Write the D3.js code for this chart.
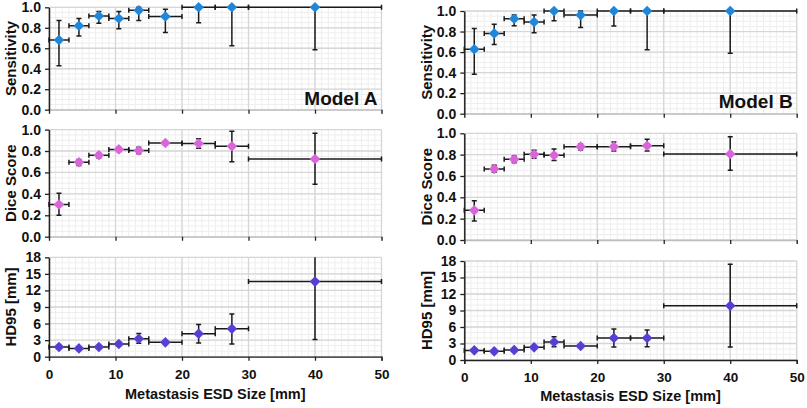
<!DOCTYPE html>
<html><head><meta charset="utf-8">
<script src="https://cdn.jsdelivr.net/npm/d3@7"></script>
<style>
body{margin:0;background:#fff;}
text{font-family:"Liberation Sans",Arial,sans-serif;font-weight:bold;fill:#111;}
</style></head>
<body><svg id="c" width="807" height="408"></svg>
<script>
// ---- data ----
const binLo = [0, 3, 6, 9, 12, 15, 20, 25, 30];
const binHi = [3, 6, 9, 12, 15, 20, 25, 30, 50];
const binMid = [1.5, 4.5, 7.5, 10.5, 13.5, 17.5, 22.5, 27.5, 40];

const sensA    = [0.68, 0.82, 0.915, 0.89, 0.97, 0.91, 1.0, 1.0, 1.0];
const sensALo  = [0.43, 0.72, 0.845, 0.79, 0.87, 0.755, 0.85, 0.625, 0.585];
const sensAHi  = [0.87, 0.89, 0.96, 0.96, 1.0, 0.98, 1.0, 1.0, 1.0];
const diceA    = [0.30, 0.695, 0.76, 0.815, 0.805, 0.875, 0.87, 0.845, 0.725];
const diceALo  = [0.20, 0.665, 0.735, 0.795, 0.775, 0.86, 0.825, 0.70, 0.49];
const diceAHi  = [0.405, 0.72, 0.78, 0.835, 0.835, 0.89, 0.915, 0.985, 0.965];
const hdA      = [1.75, 1.5, 1.75, 2.3, 3.25, 2.6, 4.15, 5.05, 13.6];
const hdALo    = [1.45, 1.3, 1.5, 2.0, 2.45, 2.4, 2.5, 2.3, 3.1];
const hdAHi    = [2.05, 1.75, 2.0, 2.65, 4.2, 2.8, 5.85, 7.75, 19.5];

const sensB    = [0.627, 0.782, 0.925, 0.893, 1.0, 0.96, 1.0, 1.0, 1.0];
const sensBLo  = [0.383, 0.675, 0.857, 0.789, 0.906, 0.84, 0.854, 0.623, 0.588];
const sensBHi  = [0.83, 0.87, 0.96, 0.96, 1.0, 1.0, 1.0, 1.0, 1.0];
const diceB    = [0.278, 0.666, 0.756, 0.803, 0.794, 0.875, 0.875, 0.884, 0.806];
const diceBLo  = [0.178, 0.634, 0.725, 0.766, 0.744, 0.844, 0.834, 0.834, 0.653];
const diceBHi  = [0.369, 0.70, 0.787, 0.84, 0.853, 0.90, 0.919, 0.945, 0.968];
const hdB      = [1.75, 1.57, 1.81, 2.3, 3.27, 2.54, 3.99, 3.99, 9.86];
const hdBLo    = [1.5, 1.35, 1.6, 2.0, 2.42, 2.35, 2.36, 2.42, 2.36];
const hdBHi    = [2.0, 1.8, 2.05, 2.6, 4.23, 2.75, 5.63, 5.44, 17.4];

const xTicks = [0, 10, 20, 30, 40, 50];
const fracTicks = [0, 0.2, 0.4, 0.6, 0.8, 1.0];
const hdTicks = [0, 3, 6, 9, 12, 15, 18];
const modelLabels = ["Model A", "Model B"];
const xTitle = "Metastasis ESD Size [mm]";

// ---- layout ----
const svg = d3.select("#c");
const colors = {sens: "#1f86d9", dice: "#d966d9", hd: "#5a3dd1"};

const models = [
  {label: modelLabels[0], x0: 49, x1: 381.5, titleX: 16,
   panels: [
     {key:"sens", title:"Sensitivity", y0:109.7, y1:7.3, dom:[0,1], ticks:fracTicks, fmt:d3.format(".1f"), minor:0.05, v:sensA, lo:sensALo, hi:sensAHi},
     {key:"dice", title:"Dice Score", y0:236.7, y1:129.6, dom:[0,1], ticks:fracTicks, fmt:d3.format(".1f"), minor:0.05, v:diceA, lo:diceALo, hi:diceAHi},
     {key:"hd", title:"HD95 [mm]", y0:356.7, y1:257.3, dom:[0,18], ticks:hdTicks, fmt:d3.format("d"), minor:1, v:hdA, lo:hdALo, hi:hdAHi, bottom:true}
   ], modelY: 105, titleXY: 399},
  {label: modelLabels[1], x0: 464.3, x1: 796.7, titleX: 432,
   panels: [
     {key:"sens", title:"Sensitivity", y0:113.7, y1:11, dom:[0,1], ticks:fracTicks, fmt:d3.format(".1f"), minor:0.05, v:sensB, lo:sensBLo, hi:sensBHi},
     {key:"dice", title:"Dice Score", y0:240, y1:133.3, dom:[0,1], ticks:fracTicks, fmt:d3.format(".1f"), minor:0.05, v:diceB, lo:diceBLo, hi:diceBHi},
     {key:"hd", title:"HD95 [mm]", y0:360, y1:261, dom:[0,18], ticks:hdTicks, fmt:d3.format("d"), minor:1, v:hdB, lo:hdBLo, hi:hdBHi, bottom:true}
   ], modelY: 108, titleXY: 401}
];

const diamond = d3.symbol().type(d3.symbolSquare).size(56);
let clipId = 0;

models.forEach(m => {
  const x = d3.scaleLinear().domain([0, 50]).range([m.x0, m.x1]);
  m.panels.forEach(p => {
    const y = d3.scaleLinear().domain(p.dom).range([p.y0, p.y1]);
    const g = svg.append("g");
    // minor grid
    const minorX = d3.range(0, 50.001, 1);
    const minorY = d3.range(p.dom[0], p.dom[1] + 1e-6, p.minor);
    g.append("g").selectAll("line").data(minorX).join("line")
      .attr("x1", d => x(d)).attr("x2", d => x(d)).attr("y1", p.y0).attr("y2", p.y1)
      .attr("stroke", "#eeeeee").attr("stroke-width", 1);
    g.append("g").selectAll("line").data(minorY).join("line")
      .attr("x1", m.x0).attr("x2", m.x1).attr("y1", d => y(d)).attr("y2", d => y(d))
      .attr("stroke", "#eeeeee").attr("stroke-width", 1);
    // major grid
    g.append("g").selectAll("line").data(xTicks).join("line")
      .attr("x1", d => x(d)).attr("x2", d => x(d)).attr("y1", p.y0).attr("y2", p.y1)
      .attr("stroke", "#d6d6d6").attr("stroke-width", 1.3);
    g.append("g").selectAll("line").data(p.ticks).join("line")
      .attr("x1", m.x0).attr("x2", m.x1).attr("y1", d => y(d)).attr("y2", d => y(d))
      .attr("stroke", "#d6d6d6").attr("stroke-width", 1.3);

    // x axis line
    const xa = g.append("g").attr("transform", `translate(0,${p.y0})`)
      .call(d3.axisBottom(x).tickValues(xTicks).tickSize(4).tickFormat(p.bottom ? d3.format("d") : ""));
    xa.select(".domain").attr("stroke", p.bottom ? "#222" : "#bdbdbd").attr("stroke-width", 1.3);
    xa.selectAll(".tick line").attr("stroke", "#222").attr("stroke-width", 1.3);
    xa.selectAll(".tick text").attr("font-size", 13.5).attr("font-weight", "bold")
      .attr("font-family", "Liberation Sans, Arial, sans-serif").attr("fill", "#111").attr("dy", "1.1em");

    // y axis
    const ya = g.append("g").attr("transform", `translate(${m.x0},0)`)
      .call(d3.axisLeft(y).tickValues(p.ticks).tickFormat(p.fmt).tickSize(4).tickSizeOuter(0).tickPadding(4));
    ya.select(".domain").attr("stroke", "#222").attr("stroke-width", 1.5);
    ya.selectAll(".tick line").attr("stroke", "#222").attr("stroke-width", 1.3);
    ya.selectAll(".tick text").attr("font-size", 14).attr("font-weight", "bold")
      .attr("font-family", "Liberation Sans, Arial, sans-serif").attr("fill", "#111");

    // clip (fraction panels allow markers to overhang the top; HD95 clipped at 18)
    const cid = "clip" + (clipId++);
    const top = p.key === "hd" ? p.y1 : p.y1 - 8;
    svg.append("clipPath").attr("id", cid).append("rect")
      .attr("x", m.x0 - 10).attr("y", top).attr("width", m.x1 - m.x0 + 20).attr("height", p.y0 - top + 6);
    const dg = svg.append("g").attr("clip-path", `url(#${cid})`);
    const idx = d3.range(p.v.length);
    const ec = "#1a1a1a", ew = 1.5, cap = 2.5;
    // horizontal error bars
    dg.append("g").selectAll("line").data(idx).join("line")
      .attr("x1", i => x(binLo[i])).attr("x2", i => x(binHi[i]))
      .attr("y1", i => y(p.v[i])).attr("y2", i => y(p.v[i]))
      .attr("stroke", ec).attr("stroke-width", ew);
    dg.append("g").selectAll("path").data(idx).join("path")
      .attr("d", i => `M${x(binLo[i])},${y(p.v[i]) - cap}V${y(p.v[i]) + cap}M${x(binHi[i])},${y(p.v[i]) - cap}V${y(p.v[i]) + cap}`)
      .attr("stroke", ec).attr("stroke-width", ew).attr("fill", "none");
    // vertical error bars
    dg.append("g").selectAll("path").data(idx).join("path")
      .attr("d", i => `M${x(binMid[i])},${y(p.lo[i])}V${y(p.hi[i])}` +
        `M${x(binMid[i]) - cap},${y(p.lo[i])}H${x(binMid[i]) + cap}` +
        `M${x(binMid[i]) - cap},${y(p.hi[i])}H${x(binMid[i]) + cap}`)
      .attr("stroke", ec).attr("stroke-width", ew).attr("fill", "none");
    // markers
    dg.append("g").selectAll("path").data(idx).join("path")
      .attr("d", diamond)
      .attr("transform", i => `translate(${x(binMid[i])},${y(p.v[i])}) rotate(45)`)
      .attr("fill", colors[p.key]);

    // y title
    svg.append("text")
      .attr("transform", `translate(${m.titleX},${(p.y0 + p.y1) / 2}) rotate(-90)`)
      .attr("text-anchor", "middle").attr("font-size", 15).text(p.title);
  });
  // model label
  svg.append("text").attr("x", m.x1 - 4).attr("y", m.modelY)
    .attr("text-anchor", "end").attr("font-size", 19).text(m.label);
  // x title
  svg.append("text").attr("x", (m.x0 + m.x1) / 2).attr("y", m.titleXY)
    .attr("text-anchor", "middle").attr("font-size", 14.5).text(xTitle);
});
</script></body></html>
